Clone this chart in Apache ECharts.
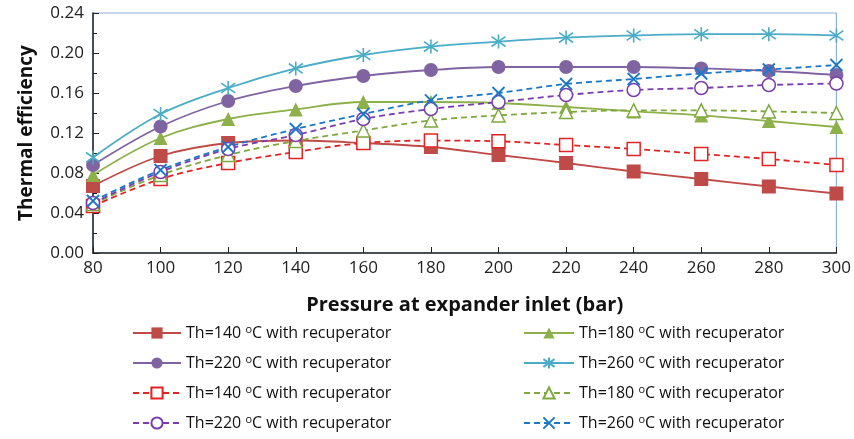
<!DOCTYPE html>
<html>
<head>
<meta charset="utf-8">
<script src="https://cdn.jsdelivr.net/npm/echarts@6/dist/echarts.min.js"></script>
<style>html,body{margin:0;padding:0;background:#fff}#c{width:854px;height:439px}</style>
</head>
<body>
<div id="c"></div>
<script>
var pressures = [80,100,120,140,160,180,200,220,240,260,280,300];
var yTicks = [0,0.04,0.08,0.12,0.16,0.20,0.24];
var s140 = [0.067,0.097,0.110,0.1125,0.110,0.106,0.098,0.090,0.0815,0.074,0.0665,0.0595];
var s180 = [0.078,0.115,0.134,0.1436,0.151,0.151,0.150,0.146,0.1416,0.1376,0.132,0.126];
var s220 = [0.088,0.1265,0.152,0.167,0.177,0.183,0.186,0.186,0.186,0.1846,0.182,0.178];
var s260 = [0.0956,0.139,0.165,0.1846,0.198,0.2064,0.2114,0.2154,0.2175,0.2188,0.2188,0.2175];
var d140 = [0.047,0.074,0.090,0.101,0.110,0.1124,0.1117,0.108,0.104,0.099,0.094,0.088];
var d180 = [0.049,0.078,0.098,0.112,0.1225,0.1326,0.1376,0.141,0.1426,0.1426,0.1416,0.140];
var d220 = [0.050,0.081,0.104,0.118,0.134,0.144,0.151,0.158,0.163,0.165,0.168,0.1695];
var d260 = [0.052,0.083,0.106,0.124,0.139,0.1527,0.160,0.169,0.174,0.1795,0.1835,0.188];
var labels = {
  s140:'Th=140 {s|o}C with recuperator', s180:'Th=180 {s|o}C with recuperator',
  s220:'Th=220 {s|o}C with recuperator', s260:'Th=260 {s|o}C with recuperator',
  d140:'Th=140 {s|o}C with recuperator', d180:'Th=180 {s|o}C with recuperator',
  d220:'Th=220 {s|o}C with recuperator', d260:'Th=260 {s|o}C with recuperator'
};
var legendCols = [['s140','s220','d140','d220'], ['s180','s260','d180','d260']];
var FONT = 'Open Sans';
var starPath = 'path://M5,0 L5,10 M0,1.5 L10,8.5 M0,8.5 L10,1.5';
var xPath = 'path://M0,0 L10,10 M10,0 L0,10';

function pts(arr){ return pressures.map(function(p,i){ return [p, arr[i]]; }); }

function mk(name, arr, color, dashed, symbol, size, fill, bw){
  return {
    name: name, type: 'line', data: pts(arr), smooth: 0.35,
    symbol: symbol, symbolSize: size,
    lineStyle: {color: color, width: 1.8, type: dashed ? [6,4] : 'solid'},
    itemStyle: {color: fill, borderColor: color, borderWidth: bw},
    emphasis: {disabled: true}, z: dashed ? 3 : 2
  };
}

var legendText = {
  fontFamily: FONT, fontSize: 16, color: '#111', lineHeight: 18,
  rich: { s: {fontFamily: FONT, fontSize: 11, color: '#111', verticalAlign: 'bottom', lineHeight: 11, padding: [0,0,7,0]} }
};
function fmt(n){ return labels[n]; }

var legends = [];
var colLeft = [132, 523];
var colW = [48, 50];
var rowCenter = [333, 363, 393, 423];
legendCols.forEach(function(col, ci){
  col.forEach(function(n, ri){
    legends.push({orient: 'horizontal', left: colLeft[ci], top: rowCenter[ri] - 9, padding: 0,
      itemWidth: colW[ci], itemHeight: 14, data: [n], formatter: fmt, textStyle: legendText, selectedMode: false});
  });
});

var option = {
  animation: false,
  backgroundColor: '#fff',
  grid: {left: 93, right: 16, top: 13, bottom: 186, show: true, borderColor: '#8DB3D6', borderWidth: 1.2, backgroundColor: 'transparent'},
  xAxis: {
    type: 'value', min: 80, max: 300, interval: 20,
    name: 'Pressure at expander inlet (bar)', nameLocation: 'middle', nameGap: 42,
    nameTextStyle: {fontFamily: FONT, fontSize: 20, fontWeight: 'bold', color: '#111'},
    axisLine: {show: true, lineStyle: {color: '#222', width: 1.5}},
    axisTick: {show: true, inside: true, length: 6, lineStyle: {color: '#222'}},
    axisLabel: {fontFamily: FONT, fontSize: 17, color: '#222', margin: 7},
    splitLine: {show: false}
  },
  yAxis: {
    type: 'value', min: yTicks[0], max: yTicks[yTicks.length-1], interval: 0.04,
    name: 'Thermal efficiency', nameLocation: 'middle', nameGap: 57,
    nameTextStyle: {fontFamily: FONT, fontSize: 19, fontWeight: 'bold', color: '#111'},
    axisLine: {show: true, lineStyle: {color: '#222', width: 1.5}},
    axisTick: {show: true, inside: true, length: 6, lineStyle: {color: '#222'}},
    minorTick: {show: true, splitNumber: 2, length: 4, lineStyle: {color: '#222'}},
    axisLabel: {fontFamily: FONT, fontSize: 17, color: '#222', margin: 9, formatter: function(v){ return v.toFixed(2); }},
    splitLine: {show: false}
  },
  legend: legends,
  series: [
    mk('s140', s140, '#BE4B48', false, 'rect', 14, '#BE4B48', 0),
    mk('s180', s180, '#8DB04A', false, 'triangle', 14, '#8DB04A', 0),
    mk('s220', s220, '#8064A2', false, 'circle', 14, '#8064A2', 0),
    mk('s260', s260, '#4BACC6', false, starPath, 14, '#4BACC6', 1.6),
    mk('d140', d140, '#E02424', true, 'rect', 13, '#fff', 1.5),
    mk('d180', d180, '#7FA83F', true, 'triangle', 13, '#fff', 1.5),
    mk('d220', d220, '#7A3DB0', true, 'circle', 13, '#fff', 1.5),
    mk('d260', d260, '#1A78C8', true, xPath, 12, '#1A78C8', 1.8)
  ]
};
var chart = echarts.init(document.getElementById('c'), null, {renderer: 'canvas'});
chart.setOption(option);
</script>
</body>
</html>
